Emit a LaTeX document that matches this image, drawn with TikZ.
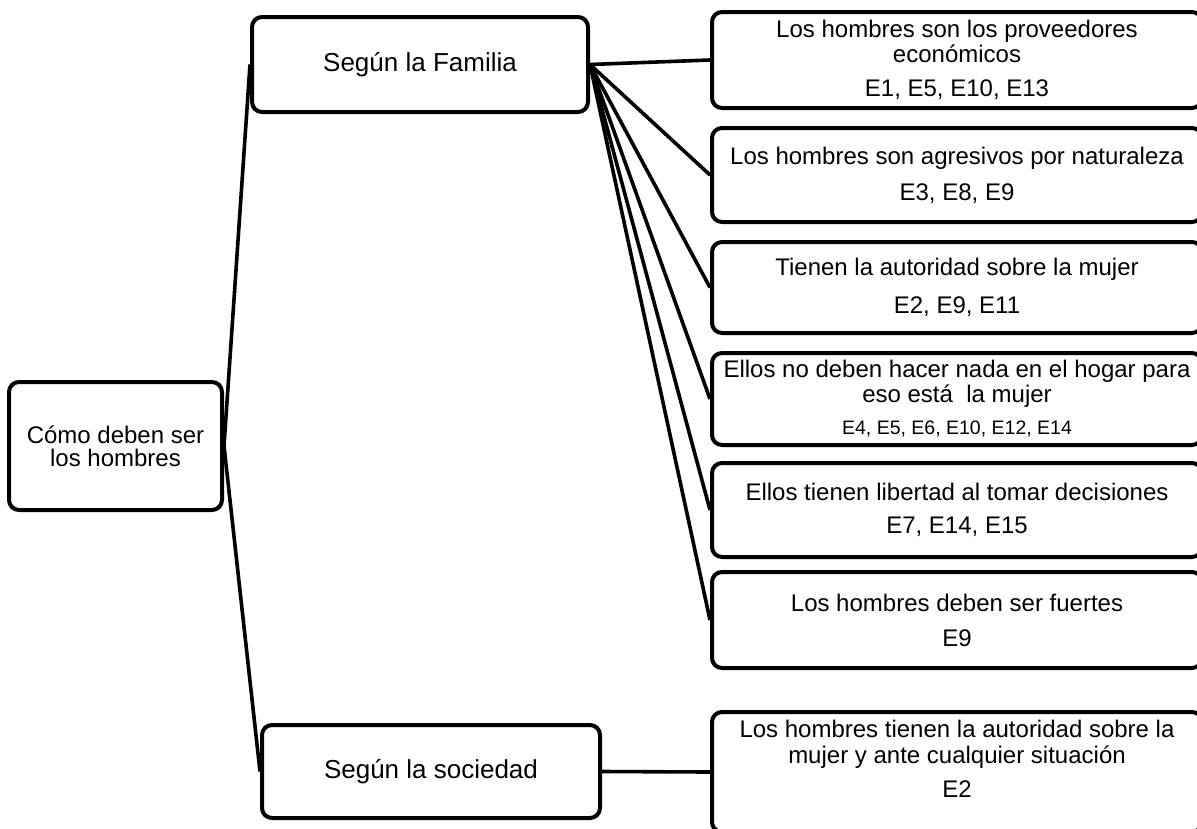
\documentclass[tikz,border=0pt]{standalone}
\usepackage{fontspec}
\setmainfont{Liberation Sans}
\usetikzlibrary{backgrounds}
\begin{document}
\begin{tikzpicture}[x=1pt,y=-1pt,
  box/.style={draw,line width=4pt,rounded corners=10pt,fill=white,align=center,inner sep=2pt,font=\fontsize{24}{24}\selectfont},
  bigtxt/.style={font=\fontsize{26}{26}\selectfont},
  rbox/.style={box,minimum width=490pt},
  link/.style={line width=3.6pt}]
\useasboundingbox (0,0) rectangle (1197,828);
\clip (0,0) rectangle (1197,828);
\node[box,minimum width=213pt,minimum height=128pt] (root) at (115.5,446) {Cómo deben ser\\[-1pt]los hombres};
\node[box,bigtxt,minimum width=336pt,minimum height=95pt] (fam) at (420,64.5) {Según la Familia};
\node[box,bigtxt,minimum width=338pt,minimum height=93pt] (soc) at (431,771.5) {Según la sociedad};
\node[rbox,minimum height=96pt] (b1) at (957,60) {Los hombres son los proveedores\\[1pt]económicos\\[10pt]E1, E5, E10, E13};
\node[rbox,minimum height=94pt] (b2) at (957,175) {Los hombres son agresivos por naturaleza\\[12pt]E3, E8, E9};
\node[rbox,minimum height=91pt] (b3) at (957,287.5) {Tienen la autoridad sobre la mujer\\[14pt]E2, E9, E11};
\node[rbox,minimum height=92pt] (b4) at (957,399) {Ellos no deben hacer nada en el hogar para\\[1pt]eso está~ la mujer\\[8pt]{\fontsize{19.5}{20}\selectfont E4, E5, E6, E10, E12, E14}};
\node[rbox,minimum height=94pt] (b5) at (957,510) {Ellos tienen libertad al tomar decisiones\\[9pt]E7, E14, E15};
\node[rbox,minimum height=96pt] (b6) at (957,620) {Los hombres deben ser fuertes\\[11pt]E9};
\node[rbox,minimum height=120pt] (b7) at (957,772) {Los hombres tienen la autoridad sobre la\\[2pt]mujer y ante cualquier situación\\[10pt]E2\rule[-27pt]{0pt}{27pt}};
\begin{scope}[on background layer]
\draw[link] (root.east) -- (fam.west);
\draw[link] (root.east) -- (soc.west);
\foreach \b in {b1,b2,b3,b4,b5,b6}{\draw[link] (fam.east) -- (\b.west);}
\draw[link] (soc.east) -- (b7.west);
\end{scope}
\end{tikzpicture}
\end{document}
